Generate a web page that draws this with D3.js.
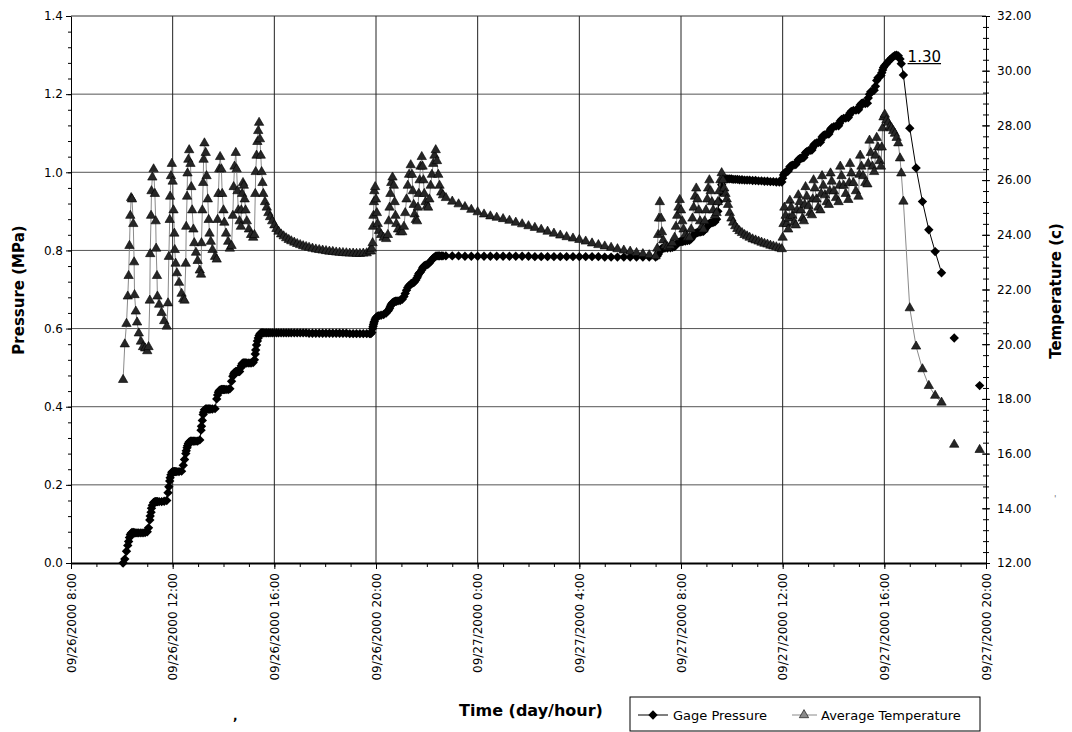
<!DOCTYPE html>
<html>
<head>
<meta charset="utf-8">
<script src="https://cdn.jsdelivr.net/npm/d3@7"></script>
<style>
  body { margin: 0; background: #fff; }
  svg { display: block; font-family: "DejaVu Sans", sans-serif; }
</style>
</head>
<body>
<svg id="chart" width="1072" height="732"></svg>
<script>
// times are minutes after midnight, 26 Sep 2000
// stage 1: stepped pressurisation, 26 Sep 10:03 - 15:34
var s1Min = [603,607,611,614,616,618,620,622,624,627,629,630,633,636,640,645,650,655,660,
  663,666,667,669,670,672,675,678,680,681,683,684,688,694,700,706,
  709,711,713,714,716,718,720,722,724,725,727,730,735,741,
  745,748,751,752,754,755,757,759,762,764,766,769,771,775,779,784,
  787,788,790,792,793,795,798,800,803,805,807,810,814,820,
  824,826,828,830,832,835,837,840,842,846,851,855,
  859,862,864,866,869,871,873,875,878,
  881,882,884,886,888,890,892,895,900,905,910,
  913,915,916,918,920,922,924,926,928,930,932,934];
var s1Mpa = [0.00,0.01,0.03,0.045,0.055,0.065,0.072,0.076,0.078,0.078,0.077,0.077,0.077,0.077,0.077,0.077,0.077,0.078,0.08,
  0.09,0.11,0.12,0.13,0.14,0.148,0.155,0.157,0.157,0.157,0.157,0.157,0.157,0.157,0.158,0.16,
  0.18,0.195,0.21,0.218,0.226,0.232,0.234,0.234,0.234,0.234,0.234,0.234,0.234,0.235,
  0.25,0.265,0.28,0.287,0.295,0.30,0.306,0.31,0.312,0.312,0.312,0.312,0.312,0.312,0.312,0.315,
  0.34,0.35,0.365,0.38,0.386,0.392,0.394,0.394,0.394,0.394,0.394,0.394,0.394,0.395,
  0.42,0.43,0.437,0.441,0.443,0.444,0.444,0.444,0.444,0.444,0.444,0.446,
  0.465,0.478,0.484,0.488,0.49,0.49,0.49,0.49,0.49,
  0.50,0.505,0.51,0.512,0.512,0.512,0.512,0.512,0.512,0.512,0.513,
  0.52,0.535,0.545,0.558,0.568,0.576,0.582,0.586,0.588,0.589,0.589,0.589];
var s1Deg = [18.7,20.0,20.75,21.75,22.5,23.6,24.7,25.35,25.3,24.4,23.0,21.8,21.2,20.8,20.4,20.1,19.9,19.85,19.75,
  19.9,21.6,23.3,24.7,25.6,26.1,26.4,25.5,24.5,23.5,22.5,21.75,21.45,21.15,20.85,20.65,
  21.5,23.2,24.55,25.4,26.15,26.6,25.95,24.9,24.05,23.45,22.95,22.6,22.25,21.85,
  21.65,21.6,22.95,24.3,25.4,26.25,26.75,27.1,26.6,25.75,24.9,24.2,23.7,23.35,23.05,22.7,
  22.55,23.7,24.9,25.9,26.75,27.35,27.0,26.15,25.3,24.55,24.05,23.75,23.45,23.2,
  23.1,24.55,25.5,26.4,26.85,26.4,25.5,24.9,24.45,24.05,23.75,23.5,
  23.6,24.7,25.75,26.5,27.0,26.4,25.6,24.9,24.5,
  24.3,24.9,25.5,25.9,25.8,25.3,24.9,24.5,24.2,24.0,23.9,
  24.0,25.5,26.3,26.9,27.4,27.8,28.1,27.5,26.9,26.3,25.9,25.5];

// stage 2: hold, 15:38 - 19:45
var s2Min = [938,942,946,950,955,960,965,970,976,982,988,994,1000,1007,1014,1021,1028,1035,1042,
  1050,1058,1066,1074,1082,1090,1098,1106,1114,1122,1130,1138,1146,1154,1162,1170,1178,1185];
var s2Mpa = [0.589,0.589,0.589,0.589,0.589,0.589,0.589,0.589,0.589,0.589,0.589,0.589,0.589,0.589,0.589,0.589,0.589,0.589,
  0.588,0.588,0.588,0.588,0.588,0.588,0.588,0.588,0.588,0.588,0.588,0.588,
  0.587,0.587,0.587,0.587,0.587,0.587,0.587];
var s2Deg = [25.2,25.0,24.8,24.65,24.5,24.35,24.22,24.12,24.02,23.95,23.88,23.82,23.77,23.72,23.67,23.63,23.59,23.56,23.53,
  23.5,23.47,23.45,23.43,23.41,23.39,23.38,23.36,23.35,23.34,23.33,23.32,23.32,23.31,23.31,23.32,23.33,23.4];

// stage 3: 19:48 - 22:38
var s3Min = [1188,1190,1192,1193,1194,1195,1196,1198,1200,1202,1204,1207,1212,1218,1224,
  1228,1230,1232,1234,1236,1239,1242,1244,1246,1248,1252,1257,1262,
  1266,1269,1272,1275,1278,1282,1285,1287,1289,1291,1294,1297,
  1299,1301,1303,1305,1308,1310,1312,1314,1317,1320,1323,
  1326,1329,1332,1335,1338,1341,1344,1347,1350,1354,1358];
var s3Mpa = [0.587,0.59,0.6,0.605,0.61,0.614,0.618,0.624,0.628,0.63,0.632,0.633,0.634,0.636,0.64,
  0.645,0.648,0.652,0.657,0.662,0.666,0.668,0.669,0.67,0.67,0.671,0.672,0.675,
  0.682,0.69,0.698,0.705,0.71,0.714,0.716,0.717,0.718,0.72,0.724,0.73,
  0.735,0.74,0.743,0.745,0.75,0.755,0.758,0.761,0.762,0.763,0.765,
  0.768,0.772,0.776,0.78,0.783,0.785,0.786,0.786,0.786,0.786,0.786];
var s3Deg = [23.4,23.5,23.7,24.3,24.7,25.2,25.6,25.75,25.3,24.8,24.4,24.15,24.0,23.9,23.85,
  24.0,24.5,25.0,25.5,25.9,26.1,25.8,25.2,24.7,24.4,24.2,24.1,24.1,
  24.3,24.8,25.3,25.8,26.2,26.55,26.2,25.6,25.1,24.75,24.55,24.5,
  25.0,25.5,26.0,26.5,26.85,26.5,26.0,25.5,25.2,25.05,25.0,
  25.3,25.8,26.2,26.6,26.9,27.1,26.7,26.2,25.8,25.55,25.45];

// stage 4: overnight, 15-minute logging
var s4Min = [1365,1380,1395,1410,1425,1440,1455,1470,1485,1500,1515,1530,1545,1560,1575,1590,1605,
  1620,1635,1650,1665,1680,1695,1710,1725,1740,1755,1770,1785,1800,1815,1830,1845,1860];
var s4Mpa = [0.786,0.786,0.786,0.785,0.785,0.785,0.785,0.785,0.785,0.785,0.785,0.785,0.785,0.785,0.784,0.784,0.784,
  0.784,0.784,0.784,0.784,0.784,0.784,0.784,0.784,0.783,0.783,0.783,0.783,0.783,0.783,0.783,0.783,0.783];
var s4Deg = [25.35,25.22,25.12,25.02,24.92,24.83,24.75,24.68,24.63,24.58,24.52,24.45,24.39,24.32,24.26,24.19,24.12,
  24.05,23.98,23.92,23.87,23.82,23.76,23.69,23.63,23.58,23.53,23.48,23.43,23.39,23.34,23.3,23.26,23.22];

// stage 5: 27 Sep 07:04 - 11:58
var s5Min = [1864,1866,1868,1870,1873,1875,1878,1882,1888,1895,1900,
  1905,1908,1911,1914,1917,1920,1923,1926,1930,1935,1940,
  1944,1947,1950,1953,1956,1959,1962,1965,1969,1973,
  1976,1979,1982,1984,1987,1990,1993,1996,2000,
  2004,2007,2010,2013,2016,2019,2022,2025,2028,2031,
  2035,2039,2043,2048,2053,2058,2064,2070,2076,2082,2089,2096,2103,2110,2117,2124,2131,2138,2145,2152,2158];
var s5Mpa = [0.786,0.79,0.795,0.80,0.803,0.805,0.806,0.806,0.806,0.807,0.808,
  0.81,0.814,0.818,0.82,0.822,0.823,0.823,0.824,0.824,0.825,0.826,
  0.83,0.835,0.84,0.843,0.845,0.846,0.847,0.847,0.848,0.849,
  0.853,0.858,0.862,0.866,0.869,0.87,0.871,0.872,0.873,
  0.88,0.90,0.925,0.95,0.968,0.978,0.982,0.983,0.983,0.983,
  0.983,0.983,0.982,0.982,0.982,0.981,0.981,0.98,0.98,0.98,0.979,0.979,0.978,0.978,0.977,0.977,0.976,0.976,0.975,0.975,0.975];
var s5Deg = [23.5,24.0,24.6,25.2,24.6,24.1,23.8,23.6,23.55,23.6,23.7,
  23.9,24.3,24.7,25.0,25.28,24.9,24.5,24.2,24.0,23.9,23.9,
  24.2,24.6,25.0,25.4,25.7,25.3,24.9,24.5,24.3,24.2,
  24.5,24.9,25.3,25.7,26.0,25.6,25.2,24.9,24.7,
  24.8,25.2,25.6,26.0,26.26,26.0,25.7,25.5,25.3,25.1,
  24.8,24.6,24.45,24.32,24.22,24.14,24.07,24.0,23.95,23.9,23.84,23.8,23.76,23.72,23.68,23.65,23.61,23.58,23.55,23.51,23.48];

// stage 6: 12:00 - 16:40
var s6Min = [2160,2162,2164,2167,2170,2173, 2175,2177,2180,2183,2187,2191, 2194,2197,2200,2203,2207,2210,
  2212,2214,2217,2221,2225,2229, 2231,2233,2236,2240,2244,2249, 2251,2253,2256,2260,2264,2269,
  2271,2273,2276,2281,2286,2292, 2294,2296,2299,2304,2309,2315, 2317,2319,2322,2327,2333,2339,
  2341,2343,2346,2350,2355,2360, 2362,2365,2368,2372,2376, 2379,2382,2385,2389,2392,
  2394,2396,2398,2401,2405,2409,2413,2417,2421,2425,2429,2433,2437,2440];
var s6Mpa = [0.985,0.993,0.998,1.0,1.002,1.003, 1.008,1.014,1.017,1.018,1.019,1.02, 1.026,1.032,1.035,1.036,1.037,1.038,
  1.044,1.05,1.053,1.055,1.056,1.057, 1.063,1.069,1.073,1.075,1.076,1.077, 1.083,1.09,1.094,1.096,1.097,1.098,
  1.104,1.11,1.114,1.117,1.118,1.119, 1.125,1.131,1.135,1.138,1.139,1.14, 1.146,1.152,1.156,1.158,1.159,1.16,
  1.166,1.172,1.176,1.178,1.176,1.177, 1.19,1.2,1.206,1.208,1.21, 1.22,1.235,1.242,1.245,1.248,
  1.255,1.262,1.268,1.273,1.278,1.283,1.288,1.292,1.296,1.299,1.30,1.298,1.29,1.278];
var s6Deg = [23.9,24.4,25.0,24.7,24.4,24.2, 24.6,25.25,25.0,24.7,24.45,24.35, 24.9,25.45,25.2,24.9,24.6,24.5,
  25.1,25.75,25.4,25.05,24.8,24.72, 25.3,26.0,25.7,25.3,25.0,24.9, 25.5,26.15,25.8,25.45,25.2,25.1,
  25.6,26.25,25.95,25.6,25.35,25.2, 25.8,26.5,26.15,25.8,25.5,25.28, 25.9,26.6,26.25,25.9,25.6,25.4,
  26.2,26.9,26.5,26.15,25.9,25.85, 26.6,27.45,27.0,26.5,26.3, 26.9,27.55,27.2,26.7,26.5,
  27.2,27.9,28.3,28.4,28.2,28.1,27.95,27.9,27.8,27.7,27.55,27.35,26.8,26.25];

// stage 7: blow-down, 15-minute logging with missing readings
var s7Min = [2445,2460,2475,2490,2505,2520,2535,2550,2565,2580,2595,2610,2625];
var s7Mpa = [1.249,1.113,1.011,0.925,0.853,0.797,0.743,null,0.576,null,null,null,0.454];
var s7Deg = [25.22,21.32,19.92,19.09,18.48,18.12,17.87,null,16.33,null,null,null,16.14];

var pressureTicks = [0, 0.2, 0.4, 0.6, 0.8, 1.0, 1.2, 1.4];
var tempTicks = [12, 14, 16, 18, 20, 22, 24, 26, 28, 30, 32];
var seriesNames = ['Gage Pressure', 'Average Temperature'];

(function() {
  'use strict';
  var start = new Date(2000, 8, 26, 0, 0);
  var rows = [];
  [[s1Min, s1Mpa, s1Deg], [s2Min, s2Mpa, s2Deg], [s3Min, s3Mpa, s3Deg], [s4Min, s4Mpa, s4Deg],
   [s5Min, s5Mpa, s5Deg], [s6Min, s6Mpa, s6Deg], [s7Min, s7Mpa, s7Deg]].forEach(function(s) {
    s[0].forEach(function(m, i) {
      rows.push({date: d3.timeMinute.offset(start, m), p: s[1][i], c: s[2][i]});
    });
  });

  var plotL = 71, plotR = 986, plotT = 16, plotB = 563;
  var font = '"DejaVu Sans", sans-serif';

  var x = d3.scaleTime()
    .domain([new Date(2000, 8, 26, 8), new Date(2000, 8, 27, 20)])
    .range([plotL, plotR]);
  var yP = d3.scaleLinear().domain([0, 1.4]).range([plotB, plotT]);
  var yT = d3.scaleLinear().domain([12, 32]).range([plotB, plotT]);

  var svg = d3.select('#chart');
  svg.append('rect').attr('width', 1072).attr('height', 732).attr('fill', '#fff');

  // grid
  var majorTimes = x.ticks(d3.timeHour.every(4));
  svg.append('g').selectAll('line')
    .data(pressureTicks.slice(1, -1))
    .join('line')
    .attr('x1', plotL).attr('x2', plotR)
    .attr('y1', function(d) { return yP(d); }).attr('y2', function(d) { return yP(d); })
    .attr('stroke', '#555').attr('stroke-width', 1);
  svg.append('g').selectAll('line')
    .data(majorTimes.slice(1, -1))
    .join('line')
    .attr('x1', function(d) { return x(d); }).attr('x2', function(d) { return x(d); })
    .attr('y1', plotT).attr('y2', plotB)
    .attr('stroke', '#222').attr('stroke-width', 1);
  svg.append('line').attr('x1', plotL).attr('x2', plotR).attr('y1', plotT).attr('y2', plotT)
    .attr('stroke', '#333');

  // left axis
  var axL = svg.append('g').attr('transform', 'translate(' + plotL + ',0)')
    .call(d3.axisLeft(yP).tickValues(pressureTicks).tickFormat(d3.format('.1f'))
      .tickSize(5).tickSizeOuter(0).tickPadding(3));
  axL.selectAll('text').attr('font-size', 12).attr('font-family', font).attr('fill', '#000');
  svg.append('g').attr('transform', 'translate(' + plotL + ',0)')
    .call(d3.axisLeft(yP).tickValues(d3.range(0, 1.401, 0.04)).tickFormat('').tickSize(3).tickSizeOuter(0))
    .select('.domain').remove();

  // right axis
  var axR = svg.append('g').attr('transform', 'translate(' + plotR + ',0)')
    .call(d3.axisRight(yT).tickValues(tempTicks).tickFormat(d3.format('.2f'))
      .tickSize(4).tickSizeOuter(0).tickPadding(7));
  axR.selectAll('.tick line').attr('x1', -4);
  axR.selectAll('text').attr('font-size', 12).attr('font-family', font).attr('fill', '#000');
  var axR2 = svg.append('g').attr('transform', 'translate(' + plotR + ',0)')
    .call(d3.axisRight(yT).tickValues(d3.range(12, 32.01, 0.4)).tickFormat('').tickSize(3).tickSizeOuter(0));
  axR2.select('.domain').remove();
  axR2.selectAll('.tick line').attr('x1', -3);

  // bottom axis
  var axB = svg.append('g').attr('transform', 'translate(0,' + plotB + ')')
    .call(d3.axisBottom(x).tickValues(majorTimes).tickFormat(d3.timeFormat('%m/%d/%Y %-H:%M'))
      .tickSize(6).tickSizeOuter(0));
  axB.selectAll('text')
    .attr('font-size', 12).attr('font-family', font).attr('fill', '#000')
    .attr('transform', 'rotate(-90)').attr('text-anchor', 'end')
    .attr('x', -10).attr('y', 0).attr('dy', '0.35em');
  axB.select('.domain').attr('stroke-width', 2);
  svg.append('g').attr('transform', 'translate(0,' + plotB + ')')
    .call(d3.axisBottom(x).ticks(d3.timeHour.every(1)).tickFormat('').tickSize(4).tickSizeOuter(0))
    .select('.domain').remove();

  // series
  var diamond = d3.symbol(d3.symbolSquare, 44);
  var triangle = d3.symbol(d3.symbolTriangle, 38);

  var lineP = d3.line().defined(function(d) { return d.p != null; })
    .x(function(d) { return x(d.date); }).y(function(d) { return yP(d.p); });
  var lineT = d3.line().defined(function(d) { return d.c != null; })
    .x(function(d) { return x(d.date); }).y(function(d) { return yT(d.c); });

  svg.append('path').datum(rows).attr('d', lineP)
    .attr('fill', 'none').attr('stroke', '#000').attr('stroke-width', 1);
  svg.append('g').selectAll('path')
    .data(rows.filter(function(d) { return d.p != null; }))
    .join('path')
    .attr('d', diamond)
    .attr('transform', function(d) { return 'translate(' + x(d.date) + ',' + yP(d.p) + ') rotate(45)'; })
    .attr('fill', '#000');

  svg.append('path').datum(rows).attr('d', lineT)
    .attr('fill', 'none').attr('stroke', '#8a8a8a').attr('stroke-width', 1);
  svg.append('g').selectAll('path')
    .data(rows.filter(function(d) { return d.c != null; }))
    .join('path')
    .attr('d', triangle)
    .attr('transform', function(d) { return 'translate(' + x(d.date) + ',' + yT(d.c) + ')'; })
    .attr('fill', '#262626').attr('stroke', '#000').attr('stroke-width', 0.6);

  // peak label
  var peak = d3.greatest(rows, function(d) { return d.p; });
  var px = x(peak.date) + 11, py = yP(peak.p) + 6.5;
  var lab = svg.append('text').attr('x', px).attr('y', py)
    .attr('font-size', 15).attr('font-family', font).attr('fill', '#000')
    .text(d3.format('.2f')(peak.p));
  var lw = lab.node().getComputedTextLength();
  svg.append('line').attr('x1', px).attr('x2', px + lw).attr('y1', py + 2).attr('y2', py + 2)
    .attr('stroke', '#000').attr('stroke-width', 1.2);

  // axis titles
  svg.append('text').attr('transform', 'translate(24,290) rotate(-90)')
    .attr('text-anchor', 'middle').attr('font-size', 15).attr('font-weight', 'bold')
    .attr('font-family', font).text('Pressure (MPa)');
  svg.append('text').attr('transform', 'translate(1061,291) rotate(-90)')
    .attr('text-anchor', 'middle').attr('font-size', 15).attr('font-weight', 'bold')
    .attr('font-family', font).text('Temperature (c)');
  svg.append('text').attr('x', 531).attr('y', 716)
    .attr('text-anchor', 'middle').attr('font-size', 16).attr('font-weight', 'bold')
    .attr('font-family', font).text('Time (day/hour)');

  // stray scan marks
  svg.append('text').attr('x', 233).attr('y', 720).attr('font-size', 12).attr('font-weight', 'bold').text(',');
  svg.append('text').attr('x', 1054).attr('y', 502).attr('font-size', 9).attr('fill', '#777').text("'");

  // legend
  var lg = svg.append('g');
  lg.append('rect').attr('x', 630).attr('y', 697).attr('width', 350).attr('height', 34)
    .attr('fill', '#fff').attr('stroke', '#000').attr('stroke-width', 1);
  var ly = 715;
  lg.append('line').attr('x1', 638).attr('x2', 668).attr('y1', ly).attr('y2', ly).attr('stroke', '#000');
  lg.append('path').attr('d', diamond).attr('transform', 'translate(653,' + ly + ') rotate(45)').attr('fill', '#000');
  lg.append('text').attr('x', 673).attr('y', ly + 5).attr('font-size', 13).attr('font-family', font).text(seriesNames[0]);
  lg.append('line').attr('x1', 792).attr('x2', 817).attr('y1', ly).attr('y2', ly).attr('stroke', '#8a8a8a');
  lg.append('path').attr('d', triangle).attr('transform', 'translate(804,' + ly + ')')
    .attr('fill', '#8a8a8a').attr('stroke', '#000').attr('stroke-width', 0.6);
  lg.append('text').attr('x', 821).attr('y', ly + 5).attr('font-size', 13).attr('font-family', font).text(seriesNames[1]);
})();
</script>
</body>
</html>
